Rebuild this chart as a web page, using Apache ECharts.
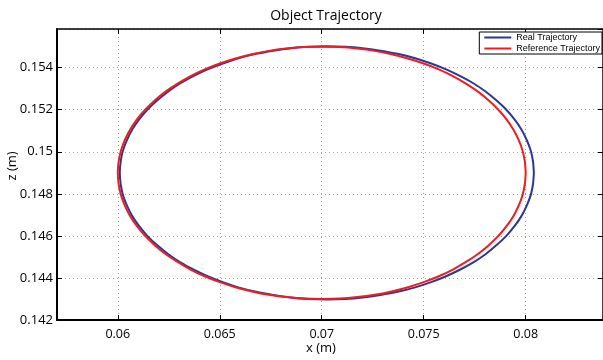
<!DOCTYPE html>
<html>
<head>
<meta charset="utf-8">
<script src="https://cdn.jsdelivr.net/npm/echarts@6/dist/echarts.min.js"></script>
<style>
  html, body { margin: 0; padding: 0; background: #fff; }
  #main { width: 603px; height: 360px; }
</style>
</head>
<body>
<div id="main"></div>
<script>
var realX = [0.08040, 0.08036, 0.08025, 0.08005, 0.07979, 0.07945, 0.07904, 0.07856, 0.07803, 0.07743,
             0.07677, 0.07607, 0.07533, 0.07454, 0.07372, 0.07288, 0.07201, 0.07114, 0.07025,
             0.06936, 0.06849, 0.06762, 0.06678, 0.06596, 0.06518, 0.06443, 0.06373, 0.06307,
             0.06248, 0.06194, 0.06146, 0.06105, 0.06071, 0.06045, 0.06025, 0.06014, 0.06010,
             0.06014, 0.06025, 0.06045, 0.06071, 0.06105, 0.06146, 0.06194, 0.06248, 0.06307,
             0.06373, 0.06443, 0.06518, 0.06596, 0.06678, 0.06762, 0.06849, 0.06936, 0.07025,
             0.07114, 0.07201, 0.07288, 0.07372, 0.07454, 0.07533, 0.07607, 0.07677, 0.07743,
             0.07803, 0.07856, 0.07904, 0.07945, 0.07979, 0.08005, 0.08025, 0.08036, 0.08040];
var realZ = [0.14900, 0.14952, 0.15005, 0.15056, 0.15106, 0.15154, 0.15201, 0.15245, 0.15287, 0.15326,
             0.15361, 0.15393, 0.15421, 0.15446, 0.15466, 0.15481, 0.15493, 0.15500, 0.15502,
             0.15500, 0.15493, 0.15481, 0.15466, 0.15446, 0.15421, 0.15393, 0.15361, 0.15326,
             0.15287, 0.15245, 0.15201, 0.15154, 0.15106, 0.15056, 0.15005, 0.14952, 0.14900,
             0.14848, 0.14795, 0.14744, 0.14694, 0.14646, 0.14599, 0.14555, 0.14513, 0.14474,
             0.14439, 0.14407, 0.14379, 0.14354, 0.14334, 0.14319, 0.14307, 0.14300, 0.14298,
             0.14300, 0.14307, 0.14319, 0.14334, 0.14354, 0.14379, 0.14407, 0.14439, 0.14474,
             0.14513, 0.14555, 0.14599, 0.14646, 0.14694, 0.14744, 0.14795, 0.14848, 0.14900];
var refX = [0.08000, 0.07996, 0.07985, 0.07966, 0.07940, 0.07906, 0.07866, 0.07819, 0.07766, 0.07707,
            0.07643, 0.07574, 0.07500, 0.07423, 0.07342, 0.07259, 0.07174, 0.07087, 0.07000,
            0.06913, 0.06826, 0.06741, 0.06658, 0.06577, 0.06500, 0.06426, 0.06357, 0.06293,
            0.06234, 0.06181, 0.06134, 0.06094, 0.06060, 0.06034, 0.06015, 0.06004, 0.06000,
            0.06004, 0.06015, 0.06034, 0.06060, 0.06094, 0.06134, 0.06181, 0.06234, 0.06293,
            0.06357, 0.06426, 0.06500, 0.06577, 0.06658, 0.06741, 0.06826, 0.06913, 0.07000,
            0.07087, 0.07174, 0.07259, 0.07342, 0.07423, 0.07500, 0.07574, 0.07643, 0.07707,
            0.07766, 0.07819, 0.07866, 0.07906, 0.07940, 0.07966, 0.07985, 0.07996, 0.08000];
var refZ = [0.14900, 0.14952, 0.15004, 0.15055, 0.15105, 0.15154, 0.15200, 0.15244, 0.15286, 0.15324,
            0.15360, 0.15392, 0.15420, 0.15444, 0.15464, 0.15480, 0.15491, 0.15498, 0.15500,
            0.15498, 0.15491, 0.15480, 0.15464, 0.15444, 0.15420, 0.15392, 0.15360, 0.15324,
            0.15286, 0.15244, 0.15200, 0.15154, 0.15105, 0.15055, 0.15004, 0.14952, 0.14900,
            0.14848, 0.14796, 0.14745, 0.14695, 0.14646, 0.14600, 0.14556, 0.14514, 0.14476,
            0.14440, 0.14408, 0.14380, 0.14356, 0.14336, 0.14320, 0.14309, 0.14302, 0.14300,
            0.14302, 0.14309, 0.14320, 0.14336, 0.14356, 0.14380, 0.14408, 0.14440, 0.14476,
            0.14514, 0.14556, 0.14600, 0.14646, 0.14695, 0.14745, 0.14796, 0.14848, 0.14900];
var xTicks = [0.06, 0.065, 0.07, 0.075, 0.08];

function pairs(xs, zs) {
    var out = [];
    for (var i = 0; i < xs.length; i++) out.push([xs[i], zs[i]]);
    return out;
}

var chart = echarts.init(document.getElementById('main'));
var font = 'Open Sans';
var axisLine = { show: true, lineStyle: { color: '#000', width: 2 } };
var dotted = { show: true, lineStyle: { color: '#a0a0a0', type: [1, 3], width: 1 } };

option = {
    animation: false,
    backgroundColor: '#fff',
    title: {
        text: 'Object Trajectory',
        left: 321,
        textAlign: 'center',
        top: 4,
        textStyle: { fontFamily: font, fontSize: 14, fontWeight: 'normal', color: '#000' }
    },
    legend: {
        orient: 'vertical',
        right: 1,
        top: 32,
        padding: [1, 2, 1, 5],
        itemGap: 2,
        itemWidth: 27,
        itemHeight: 2,
        icon: 'rect',
        borderColor: '#000',
        borderWidth: 1,
        backgroundColor: '#fff',
        textStyle: { fontFamily: 'Liberation Sans', fontSize: 9, color: '#000' },
        data: ['Real Trajectory', 'Reference Trajectory']
    },
    grid: { left: 57, right: 0, top: 29, bottom: 40, containLabel: false, outerBoundsMode: 'none' },
    xAxis: [
        {
            type: 'value',
            min: 0.05702,
            max: 0.08379,
            name: 'x (m)',
            nameLocation: 'middle',
            nameGap: 22,
            nameMoveOverlap: false,
            nameTextStyle: { fontFamily: font, fontSize: 13, color: '#000', padding: [0, 18, 0, 0] },
            axisLine: axisLine,
            axisTick: { inside: true, length: 5, customValues: xTicks, lineStyle: { color: '#000' } },
            axisLabel: { customValues: xTicks, margin: 8, fontFamily: font, fontSize: 12.5, color: '#000' },
            splitLine: dotted
        },
        {
            type: 'value',
            position: 'top',
            min: 0.05702,
            max: 0.08379,
            axisLine: { show: true, lineStyle: { color: '#000', width: 1.5 } },
            axisTick: { inside: true, length: 5, customValues: xTicks, lineStyle: { color: '#000' } },
            axisLabel: { show: false },
            splitLine: { show: false }
        }
    ],
    yAxis: [
        {
            type: 'value',
            min: 0.142,
            max: 0.15584,
            interval: 0.002,
            name: 'z (m)',
            nameLocation: 'middle',
            nameGap: 38,
            nameMoveOverlap: false,
            nameTextStyle: { fontFamily: font, fontSize: 13, color: '#000', padding: [0, 0, 0, 17] },
            axisLine: axisLine,
            axisTick: { inside: true, length: 5, lineStyle: { color: '#000' } },
            axisLabel: { margin: 4, showMaxLabel: false, fontFamily: font, fontSize: 13, color: '#000' },
            splitLine: dotted
        },
        {
            type: 'value',
            position: 'right',
            min: 0.142,
            max: 0.15584,
            interval: 0.002,
            axisLine: { show: true, lineStyle: { color: '#000', width: 1.5 } },
            axisTick: { inside: true, length: 5, lineStyle: { color: '#000' } },
            axisLabel: { show: false },
            splitLine: { show: false }
        }
    ],
    series: [
        {
            name: 'Real Trajectory',
            type: 'line',
            symbol: 'none',
            smooth: 0.3,
            color: '#2b3990',
            lineStyle: { color: '#2b3990', width: 2 },
            data: pairs(realX, realZ)
        },
        {
            name: 'Reference Trajectory',
            type: 'line',
            symbol: 'none',
            smooth: 0.3,
            color: '#ee1d23',
            lineStyle: { color: '#ee1d23', width: 2 },
            data: pairs(refX, refZ)
        }
    ]
};
chart.setOption(option);
</script>
</body>
</html>
